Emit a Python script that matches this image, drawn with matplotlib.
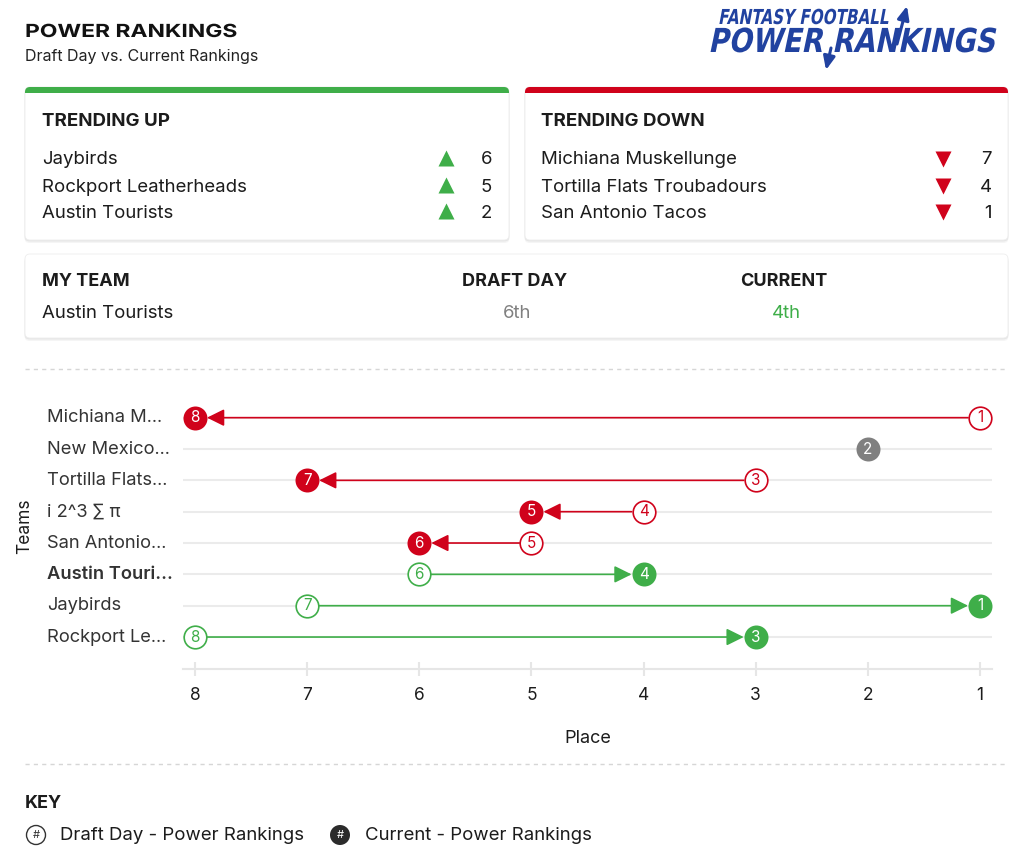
import matplotlib
matplotlib.use("Agg")
import matplotlib.pyplot as plt
import matplotlib.patheffects as pe
from matplotlib.patches import FancyBboxPatch, Rectangle, Circle
from matplotlib.transforms import Affine2D

plt.rcParams['font.family'] = ['Inter', 'DejaVu Sans']

# ---- datos ----
team_labels = ["Michiana M...", "New Mexico...", "Tortilla Flats...", "i 2^3 \u2211 \u03c0",
               "San Antonio...", "Austin Touri...", "Jaybirds", "Rockport Le..."]
draft_rank = [1, 2, 3, 4, 5, 6, 7, 8]
current_rank = [8, 2, 7, 5, 6, 4, 1, 3]
my_team_label = "Austin Touri..."
place_ticks = [8, 7, 6, 5, 4, 3, 2, 1]

up_teams = ["Jaybirds", "Rockport Leatherheads", "Austin Tourists"]
up_values = [6, 5, 2]
down_teams = ["Michiana Muskellunge", "Tortilla Flats Troubadours", "San Antonio Tacos"]
down_values = [7, 4, 1]

my_team = "Austin Tourists"
my_draft = "6th"
my_current = "4th"

# ---- colores ----
GREEN = "#3fae49"
RED = "#d0021b"
GRAY = "#808080"
INK = "#1c1c1c"
LOGO = "#2142a0"
FS = 13.4  # texto normal

W, H = 1024, 860
fig = plt.figure(figsize=(W / 100, H / 100), dpi=100)
fig.patch.set_facecolor("white")

# lienzo en pixeles para tarjetas y textos
bg = fig.add_axes([0, 0, 1, 1])
bg.set_xlim(0, W)
bg.set_ylim(H, 0)
bg.axis("off")
renderer = fig.canvas.get_renderer()


class Stretch(pe.AbstractPathEffect):
    """escala (y sesgo opcional) del texto alrededor de su ancla"""
    def __init__(self, sx, sy, x0, y0, skew=0):
        super().__init__()
        self.sx, self.sy, self.x0, self.y0, self.skew = sx, sy, x0, y0, skew

    def draw_path(self, renderer, gc, tpath, affine, rgbFace=None):
        t = affine + (Affine2D().translate(-self.x0, -self.y0)
                      .skew_deg(self.skew, 0).scale(self.sx, self.sy)
                      .translate(self.x0, self.y0))
        renderer.draw_path(gc, tpath, t, rgbFace)


def fit_text(x, y, s, width, sy=1.0, skew=0, **kw):
    t = bg.text(x, y, s, ha="left", va="baseline", **kw)
    w = t.get_window_extent(renderer).width
    t.set_path_effects([Stretch(width / w, sy, x, H - y, skew)])
    return t


def card(x0, y0, x1, y1, top_color=None):
    for off, a in [(3, 0.04), (1.5, 0.06)]:
        bg.add_patch(FancyBboxPatch((x0 - 0.5, y0 + off), x1 - x0 + 1, y1 - y0,
                                    boxstyle="round,pad=0,rounding_size=5",
                                    fc="black", ec="none", alpha=a))
    box = FancyBboxPatch((x0, y0), x1 - x0, y1 - y0,
                         boxstyle="round,pad=0,rounding_size=5",
                         fc="white", ec="#eeeeee", lw=0.6)
    bg.add_patch(box)
    if top_color:
        strip = Rectangle((x0, y0), x1 - x0, 6, fc=top_color, ec="none")
        bg.add_patch(strip)
        strip.set_clip_path(box)


# ---- encabezado ----
fit_text(25, 37, "POWER RANKINGS", 213, fontsize=13, fontweight="bold", color="#111111")
bg.text(25, 56, "Draft Day vs. Current Rankings", fontsize=11.5, color="#222222",
        ha="left", va="center")

# logo
fit_text(718, 24, "FANTASY FOOTBALL", 170, sy=1.35, skew=14, fontsize=11,
         fontweight="bold", color=LOGO, family="DejaVu Sans")
fit_text(708, 52, "POWER RANKINGS", 287, sy=1.4, skew=14, fontsize=17,
         fontweight="heavy", color=LOGO, family="DejaVu Sans")
bg.annotate("", xy=(907, 6), xytext=(897, 44),
            arrowprops=dict(arrowstyle="-|>,head_length=0.8,head_width=0.35",
                            color=LOGO, lw=2.2, shrinkA=0, shrinkB=0))
bg.annotate("", xy=(826, 70), xytext=(831, 48),
            arrowprops=dict(arrowstyle="-|>,head_length=0.8,head_width=0.35",
                            color=LOGO, lw=2.2, shrinkA=0, shrinkB=0))

# ---- tarjetas de tendencia ----
card(25, 87, 509, 240, GREEN)
card(525, 87, 1008, 240, RED)

row_y = [160, 187, 213]
bg.text(42, 121, "TRENDING UP", fontsize=13.5, fontweight="bold", color=INK, va="center")
for yy, name, val in zip(row_y, up_teams, up_values):
    bg.text(42, yy, name, fontsize=FS, color=INK, va="center")
    bg.plot(446, yy - 2, marker="^", ms=11, color=GREEN, mec="none")
    bg.text(492, yy, str(val), fontsize=FS, color=INK, va="center", ha="right")

bg.text(541, 121, "TRENDING DOWN", fontsize=13.5, fontweight="bold", color=INK, va="center")
for yy, name, val in zip(row_y, down_teams, down_values):
    bg.text(541, yy, name, fontsize=FS, color=INK, va="center")
    bg.plot(943, yy - 1, marker="v", ms=11, color=RED, mec="none")
    bg.text(992, yy, str(val), fontsize=FS, color=INK, va="center", ha="right")

# ---- mi equipo ----
card(25, 254, 1008, 338)
bg.text(42, 282, "MY TEAM", fontsize=13, fontweight="bold", color=INK, va="center")
bg.text(462, 282, "DRAFT DAY", fontsize=13, fontweight="bold", color=INK, va="center")
bg.text(740, 282, "CURRENT", fontsize=13, fontweight="bold", color=INK, va="center")
bg.text(42, 313, my_team, fontsize=FS, color=INK, va="center")
bg.text(517, 313, my_draft, fontsize=FS, color=GRAY, va="center", ha="center")
bg.text(786, 313, my_current, fontsize=FS, color=GREEN, va="center", ha="center")

# separadores punteados
for yy in (369, 764):
    bg.plot([25, 1008], [yy, yy], color="#d6d6d6", lw=1, ls=(0, (3, 3)))

# ---- grafico principal ----
L, R, T, B = 183, 992, 402, 669
ax = fig.add_axes([L / W, 1 - B / H, (R - L) / W, (B - T) / H])
ax.patch.set_alpha(0)
n = len(team_labels)
ax.set_xlim(8.107, 0.893)
ax.set_ylim(n - 1 + 1.02, -0.5)
ax.set_yticks(range(n))
ax.yaxis.grid(True, color="#ebebeb", lw=1.5)
ax.set_axisbelow(True)
ax.tick_params(axis="y", length=0, labelleft=False)
ax.set_xticks(place_ticks)
ax.set_xticklabels([str(p) for p in place_ticks])
ax.tick_params(axis="x", direction="inout", length=10, width=1.5, color="#e6e6e6",
               pad=8, labelsize=12.5, labelcolor=INK)
for s in ("top", "right", "left"):
    ax.spines[s].set_visible(False)
ax.spines["bottom"].set_color("#e6e6e6")
ax.spines["bottom"].set_linewidth(1.5)
ax.set_xlabel("Place", fontsize=13, color=INK, labelpad=19)

x_lab = (47 - L) / (R - L)
for i, lab in enumerate(team_labels):
    ax.text(x_lab, i, lab, transform=ax.get_yaxis_transform(), ha="left", va="center",
            fontsize=13.2, color="#333333",
            fontweight="semibold" if lab == my_team_label else "normal")
bg.text(25, 526, "Teams", rotation=90, fontsize=12.5, color=INK, ha="center", va="center")

r_pt = 12 / 1.389
for i, (d, c) in enumerate(zip(draft_rank, current_rank)):
    if c == d:
        ax.scatter(c, i, s=(2 * r_pt) ** 2, color=GRAY, zorder=4, lw=0)
        ax.text(c, i, str(c), color="white", ha="center", va="center", fontsize=11, zorder=5)
        continue
    col = RED if c > d else GREEN
    ax.annotate("", xy=(c, i), xytext=(d, i),
                arrowprops=dict(arrowstyle="-|>,head_length=1.05,head_width=0.52",
                                color=col, lw=1.2, shrinkA=r_pt, shrinkB=r_pt),
                zorder=3)
    ax.scatter(d, i, s=(2 * r_pt - 1) ** 2, facecolor="white", edgecolor=col, lw=1.2, zorder=4)
    ax.text(d, i, str(d), color=col, ha="center", va="center", fontsize=11, zorder=5)
    ax.scatter(c, i, s=(2 * r_pt) ** 2, color=col, zorder=4, lw=0)
    ax.text(c, i, str(c), color="white", ha="center", va="center", fontsize=11, zorder=5)

# ---- leyenda ----
bg.text(25, 804, "KEY", fontsize=13, fontweight="bold", color=INK, va="center")
bg.add_patch(Circle((36, 835), 9.5, fc="white", ec="#333333", lw=1))
bg.text(36, 835, "#", fontsize=8, color="#333333", ha="center", va="center")
bg.text(60, 835, "Draft Day - Power Rankings", fontsize=FS, color=INK, va="center")
bg.add_patch(Circle((340, 835), 10, fc="#2b2b2b", ec="none"))
bg.text(340, 835, "#", fontsize=8, color="white", ha="center", va="center")
bg.text(365, 835, "Current - Power Rankings", fontsize=FS, color=INK, va="center")

fig.savefig("out.png", dpi=100)
